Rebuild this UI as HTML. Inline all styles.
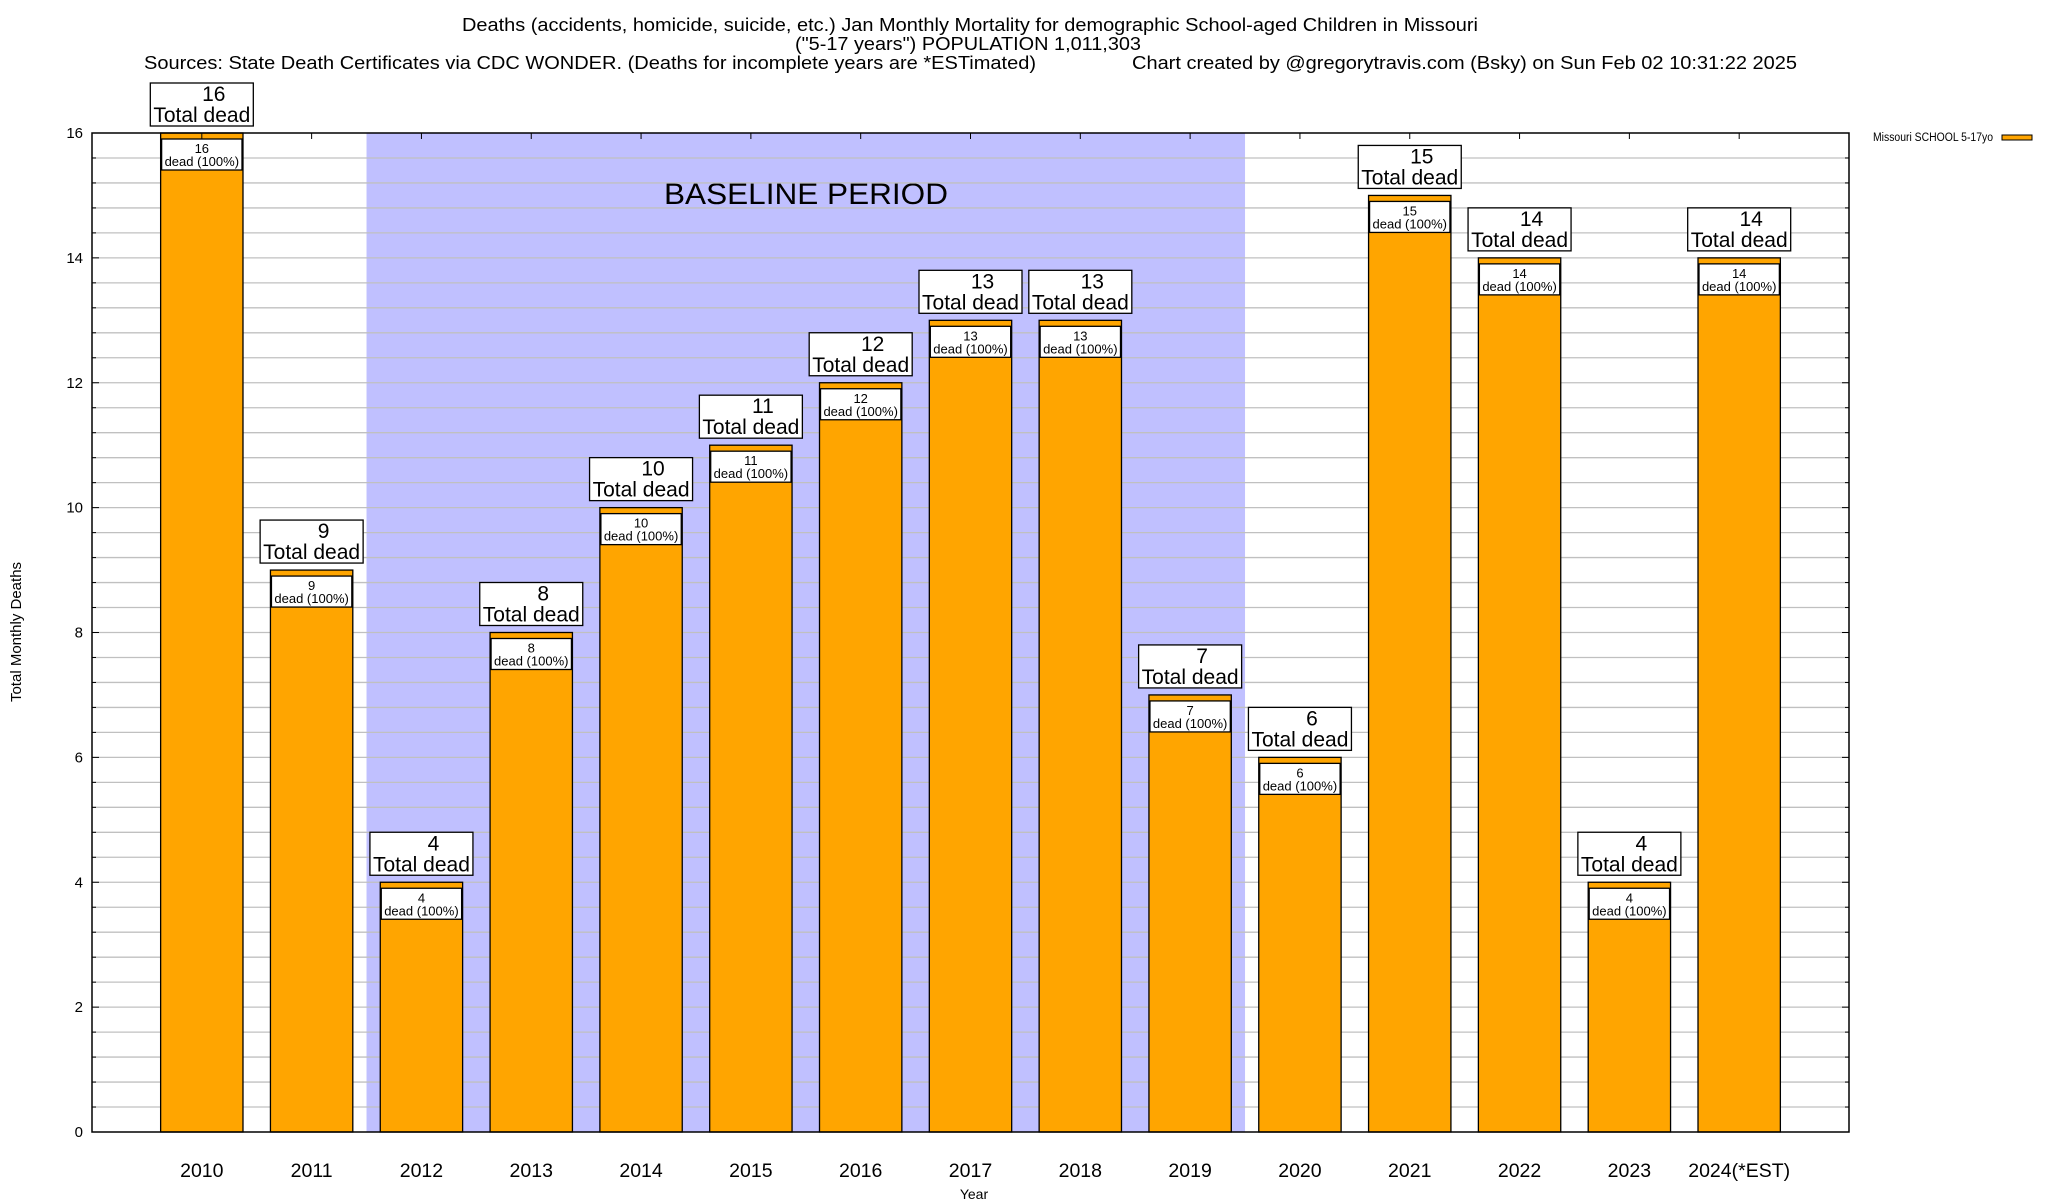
<!DOCTYPE html>
<html><head><meta charset="utf-8"><style>
html,body{margin:0;padding:0;background:#fff;}
svg{display:block;font-family:"Liberation Sans",sans-serif;}
</style></head><body>
<svg id="chart" width="2048" height="1200" viewBox="0 0 2048 1200" xmlns="http://www.w3.org/2000/svg">
<rect x="0" y="0" width="2048" height="1200" fill="#fff"/>
<g font-size="18.5" fill="#000">
<text x="970" y="31" text-anchor="middle" textLength="1016" lengthAdjust="spacingAndGlyphs">Deaths (accidents, homicide, suicide, etc.) Jan Monthly Mortality for demographic School-aged Children in Missouri</text>
<text x="968" y="50" text-anchor="middle" textLength="346" lengthAdjust="spacingAndGlyphs">("5-17 years") POPULATION 1,011,303</text>
<text x="144" y="69" textLength="892" lengthAdjust="spacingAndGlyphs">Sources: State Death Certificates via CDC WONDER. (Deaths for incomplete years are *ESTimated)</text>
<text x="1132" y="69" textLength="665" lengthAdjust="spacingAndGlyphs">Chart created by @gregorytravis.com (Bsky) on Sun Feb 02 10:31:22 2025</text>
</g>
<g id="plot"></g>
<text transform="translate(21,632) rotate(-90)" text-anchor="middle" font-size="15">Total Monthly Deaths</text>
<text x="974" y="1199" text-anchor="middle" font-size="14">Year</text>
<g>
<text x="1873" y="141" font-size="11.5" textLength="120" lengthAdjust="spacingAndGlyphs">Missouri SCHOOL 5-17yo</text>
<rect x="2002" y="135" width="30" height="5" fill="#ffa500" stroke="#000" stroke-width="1"/>
</g>
</svg>
<script>
const categories = ["2010","2011","2012","2013","2014","2015","2016","2017","2018","2019","2020","2021","2022","2023","2024(*EST)"];
const values = [16,9,4,8,10,11,12,13,13,7,6,15,14,4,14];
const yTicks = [0,2,4,6,8,10,12,14,16];
const baselineStart = 1.5, baselineEnd = 9.5;

const NS = "http://www.w3.org/2000/svg";
const L = 92, R = 1849, T = 133, B = 1132;
const xMin = -1, xMax = 15, yMin = 0, yMax = 16;
const xs = i => L + (i - xMin) / (xMax - xMin) * (R - L);
const ys = v => B - (v - yMin) / (yMax - yMin) * (B - T);
const plot = document.getElementById('plot');
function mk(tag, attrs, parent, text) {
  const e = document.createElementNS(NS, tag);
  for (const k in attrs) e.setAttribute(k, attrs[k]);
  if (text !== undefined) e.textContent = text;
  (parent || plot).appendChild(e);
  return e;
}
let sh = mk('rect', {x: xs(baselineStart), y: T, width: xs(baselineEnd) - xs(baselineStart), height: B - T, fill: '#c0c0ff'});


let bt = mk('text', {x: 664, y: 204, 'font-size': 30, textLength: 284, lengthAdjust: 'spacingAndGlyphs'}, plot, 'BASELINE PERIOD');


const grid = mk('g', {});


for (let k = 1; k < 40; k++) {
  const v = k * 0.4;
  mk('line', {x1: L, x2: R, y1: ys(v), y2: ys(v), stroke: '#c0c0c0', 'stroke-width': 1.3}, grid);
  const major = Math.abs(v / 2 - Math.round(v / 2)) < 1e-6;
  mk('line', {x1: L, x2: L + (major ? 7 : 4), y1: ys(v), y2: ys(v), stroke: '#000', 'stroke-width': 1}, grid);
  mk('line', {x1: R, x2: R - (major ? 7 : 4), y1: ys(v), y2: ys(v), stroke: '#000', 'stroke-width': 1}, grid);
}
const yl = mk('g', {'font-size': 15, 'text-anchor': 'end'});


yTicks.forEach(v => mk('text', {x: 83, y: ys(v) + 5}, yl, String(v)));
categories.forEach((c, i) => {
  const v = values[i];
  const cx = xs(i), w = 0.75 * (xs(1) - xs(0));
  const g = mk('g', {});
  
  
  mk('rect', {x: cx - w / 2, y: ys(v), width: w, height: B - ys(v), fill: '#ffa500', stroke: '#000', 'stroke-width': 1.3}, g);
  mk('rect', {x: cx - w / 2 + 1, y: ys(v) + 6, width: w - 2, height: 31, fill: '#fff', stroke: '#000', 'stroke-width': 1.3}, g);
  mk('text', {x: cx, y: ys(v) + 20, 'font-size': 13, 'text-anchor': 'middle'}, g, String(v));
  mk('text', {x: cx, y: ys(v) + 33, 'font-size': 13, 'text-anchor': 'middle'}, g, 'dead (100%)');
  const lb = mk('g', {}, g);
  
  
  const by = ys(v) - 7 - 43;
  mk('rect', {x: cx - 51.5, y: by, width: 103, height: 43, fill: '#fff', stroke: '#000', 'stroke-width': 1.3}, lb);
  mk('text', {x: cx + 12, y: by + 18, 'font-size': 21, 'text-anchor': 'middle'}, lb, String(v));
  mk('text', {x: cx, y: by + 39, 'font-size': 21, 'text-anchor': 'middle', textLength: 97, lengthAdjust: 'spacingAndGlyphs'}, lb, 'Total dead');
  const xt = mk('text', {x: cx, y: 1177, 'font-size': 19.5, 'text-anchor': 'middle'}, plot, c);
  
  
  mk('line', {x1: cx, x2: cx, y1: T, y2: T + 6, stroke: '#000', 'stroke-width': 1});
});
const fr = mk('rect', {x: L, y: T, width: R - L, height: B - T, fill: 'none', stroke: '#000', 'stroke-width': 1.5});


</script>
</body></html>
